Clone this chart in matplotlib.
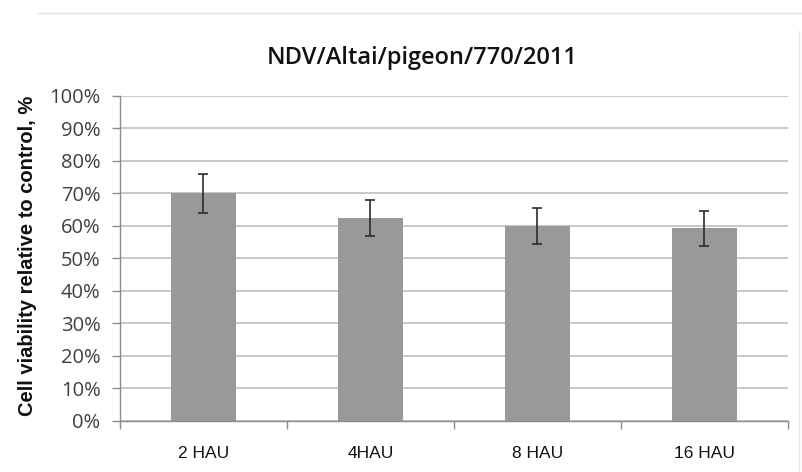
import matplotlib
matplotlib.use("Agg")
import matplotlib.pyplot as plt
from matplotlib.lines import Line2D
from matplotlib.ticker import PercentFormatter

# data
categories = ["2 HAU", "4HAU", "8 HAU", "16 HAU"]
viability = [70.0, 62.3, 60.0, 59.2]
errors = [6.0, 5.5, 5.6, 5.4]
title = "NDV/Altai/pigeon/770/2011"
ylabel = "Cell viability relative to control, %"

bar_color = "#999999"
grid_color = "#c4c4c4"
axis_color = "#8c8c8c"

fig = plt.figure(figsize=(8.02, 4.72), dpi=100)
ax = fig.add_axes([0.1496, 0.1087, 0.8329, 0.6885])

x = range(len(categories))
ax.bar(x, viability, width=0.39, color=bar_color, zorder=2)
ax.errorbar(x, viability, yerr=errors, fmt="none", ecolor="#2b2b2b",
            elinewidth=1.2, capsize=3.5, capthick=1.2, zorder=3)

ax.set_xlim(-0.5, len(categories) - 0.5)
ax.set_ylim(0, 100)
ax.set_yticks(range(0, 101, 10))
ax.yaxis.set_major_formatter(PercentFormatter(decimals=0))
ax.yaxis.grid(True, color=grid_color, linewidth=1.3, zorder=0)
ax.set_axisbelow(True)

# category labels centred, ticks at category boundaries
ax.set_xticks(list(x))
ax.set_xticklabels(categories, family=["Liberation Sans", "DejaVu Sans"],
                   fontsize=12.5, color="#111111")
ax.set_xticks([i - 0.5 for i in range(len(categories) + 1)], minor=True)
ax.tick_params(axis="x", which="major", length=0, pad=18)
ax.tick_params(axis="x", which="minor", length=6, color=axis_color, width=1)
ax.tick_params(axis="y", length=6, color=axis_color, width=1, pad=8,
               labelsize=14.5, labelcolor="#404040")
for lab in ax.get_yticklabels():
    lab.set_family(["Open Sans", "DejaVu Sans"])

for side in ("top", "right"):
    ax.spines[side].set_visible(False)
for side in ("left", "bottom"):
    ax.spines[side].set_color(axis_color)
    ax.spines[side].set_linewidth(1)

fig.text(0.526, 0.877, title, ha="center", va="center", fontsize=17,
         fontweight="semibold", family=["Open Sans", "DejaVu Sans"], color="#111111")
fig.text(0.034, 0.457, ylabel, rotation=90, ha="center", va="center",
         fontsize=14.5, fontweight="bold", family=["Liberation Sans", "DejaVu Sans"],
         color="#111111")

# faint frame of the original chart area
fig.add_artist(Line2D([0.047, 1.0], [0.972, 0.972], color="#e3e3e3", lw=1))
fig.add_artist(Line2D([0.996, 0.996], [0.0, 0.935], color="#e6e6e6", lw=1))

fig.savefig("out.png", dpi=100)
